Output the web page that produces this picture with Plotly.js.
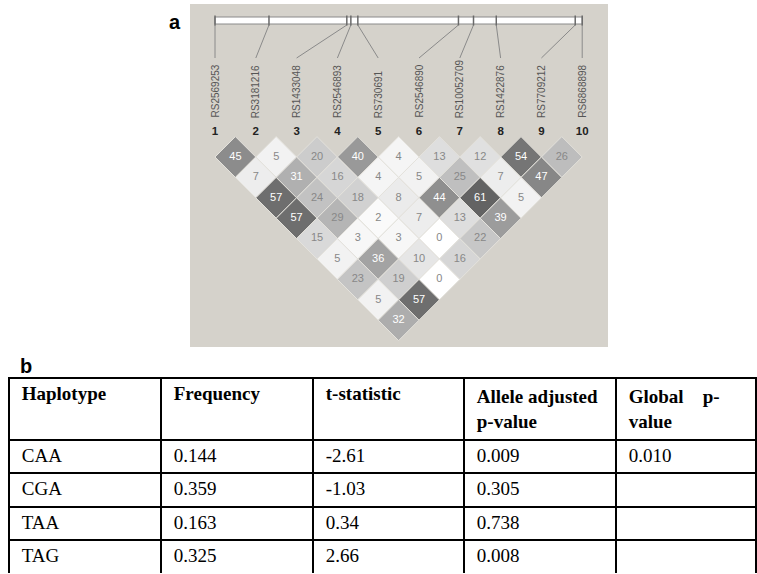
<!DOCTYPE html>
<html>
<head>
<meta charset="utf-8">
<script src="https://cdn.plot.ly/plotly-3.0.1.min.js"></script>
<style>html,body{margin:0;padding:0;background:#fff;}#chart{width:757px;height:574px;}</style>
</head>
<body>
<div id="chart"></div>
<script>
// ---- Data (panel a: LD plot) ----
const snpNames = ['RS2569253','RS3181216','RS1433048','RS2546893','RS730691','RS2546890','RS10052709','RS1422876','RS7709212','RS6868898'];
const snpNumbers = ['1','2','3','4','5','6','7','8','9','10'];
// relative physical position of each SNP along the top bar (0 = first, 1 = last)
const barPos = [0, 0.147, 0.359, 0.370, 0.389, 0.663, 0.704, 0.766, 0.981, 1.0];
// LD values (r^2 x 100), row d = pairs of SNPs d apart
const ldRow1 = [45, 5, 20, 40, 4, 13, 12, 54, 26];
const ldRow2 = [7, 31, 16, 4, 5, 25, 7, 47];
const ldRow3 = [57, 24, 18, 8, 44, 61, 5];
const ldRow4 = [57, 29, 2, 7, 13, 39];
const ldRow5 = [15, 3, 3, 0, 22];
const ldRow6 = [5, 36, 10, 16];
const ldRow7 = [23, 19, 0];
const ldRow8 = [5, 57];
const ldRow9 = [32];
const ldRows = [ldRow1, ldRow2, ldRow3, ldRow4, ldRow5, ldRow6, ldRow7, ldRow8, ldRow9];

// ---- Data (panel b: table) ----
const tableHeaders = ['Haplotype', 'Frequency', 't-statistic', 'Allele adjusted<br>p-value', 'Global\u00a0\u00a0\u00a0\u00a0p-<br>value'];
const haplotypes = ['CAA', 'CGA', 'TAA', 'TAG'];
const frequency = ['0.144', '0.359', '0.163', '0.325'];
const tStatistic = ['-2.61', '-1.03', '0.34', '2.66'];
const alleleP = ['0.009', '0.305', '0.738', '0.008'];
const globalP = ['0.010', '', '', ''];

// ---- Layout helpers ----
const W = 757, H = 574;
const pxPerUnit = 40.8;
const x0px = 215;          // pixel of SNP 1
const row1px = 157;        // pixel y of first LD row
const panel = {l: 190, r: 608, t: 4, b: 347};
const xr = [1 + (panel.l - x0px) / pxPerUnit, 1 + (panel.r - x0px) / pxPerUnit];
function yFromPx(p) { return -(1 + (p - row1px) / (pxPerUnit / 2)) * 0.5; }
const yr = [yFromPx(panel.b), yFromPx(panel.t)];

// diamonds
const dx = [], dy = [], dv = [], dtxt = [], dtcol = [];
ldRows.forEach((row, r) => {
  const d = r + 1;
  row.forEach((v, k) => {
    dx.push(k + 1 + d / 2);
    dy.push(-d * 0.5);
    dv.push(v);
    dtxt.push(String(v));
    dtcol.push(v >= 30 ? '#ffffff' : '#888888');
  });
});

const n = snpNames.length;
const barX = barPos.map(p => 1 + (n - 1) * p);

// connector lines from bar to labels
const cx = [], cy = [];
for (let i = 0; i < n; i++) {
  cx.push(barX[i], i + 1, null);
  cy.push(yFromPx(25), yFromPx(58), null);
}
// ticks on bar
const tx = [], ty = [];
for (let i = 0; i < n; i++) {
  tx.push(barX[i], barX[i], null);
  ty.push(yFromPx(15.5), yFromPx(25.5), null);
}

const pad = s => (s === '' ? '' : '\u00a0' + s);
const padHead = s => s.split('<br>').map(pad).join('<br>');

const traces = [
  {type: 'scatter', mode: 'lines', x: cx, y: cy, line: {color: '#8a8a8a', width: 1}, hoverinfo: 'skip', showlegend: false},
  {type: 'scatter', mode: 'lines', x: tx, y: ty, line: {color: '#6a6a6a', width: 1.5}, hoverinfo: 'skip', showlegend: false},
  {type: 'scatter', mode: 'markers+text', x: dx, y: dy, text: dtxt,
   textposition: 'middle center', textfont: {family: 'Liberation Sans, Arial', size: 11, color: dtcol},
   marker: {symbol: 'diamond', size: 2 * 20.4 / 1.3, color: dv, cmin: 0, cmax: 100,
            colorscale: [[0, '#ffffff'], [1, '#000000']], line: {color: '#e4e2dc', width: 1}},
   hoverinfo: 'skip', showlegend: false},
  {type: 'scatter', mode: 'text', x: snpNames.map((s, i) => i + 1), y: snpNames.map(() => yFromPx(132)),
   text: snpNumbers, textfont: {family: 'Liberation Sans, Arial', size: 11.5, color: '#222'},
   texttemplate: '<b>%{text}</b>', hoverinfo: 'skip', showlegend: false},
  {type: 'table', domain: {x: [9 / W, 756 / W], y: [0, 1 - 378 / H]},
   columnwidth: [152, 152, 151, 152, 140],
   header: {values: tableHeaders.map(padHead), align: 'left', height: 58,
            font: {family: 'Liberation Serif, Times New Roman', size: 19, color: '#000', weight: 'bold'},
            fill: {color: '#ffffff'}, line: {color: '#000', width: 2}},
   cells: {values: [haplotypes, frequency, tStatistic, alleleP, globalP].map(col => col.map(pad)), align: 'left', height: 33.5,
           font: {family: 'Liberation Serif, Times New Roman', size: 19, color: '#000'},
           fill: {color: '#ffffff'}, line: {color: '#000', width: 2}}}
];

const annotations = snpNames.map((s, i) => ({
  x: i + 1, y: yFromPx(120), xref: 'x', yref: 'y', text: s, textangle: -90,
  xanchor: 'center', yanchor: 'bottom', showarrow: false,
  font: {family: 'Liberation Sans, Arial', size: 10, color: '#555'}
}));
annotations.push({x: 175 / W, y: 1 - 22 / H, xref: 'paper', yref: 'paper', text: '<b>a</b>', showarrow: false,
  xanchor: 'center', yanchor: 'middle', font: {family: 'Liberation Sans, Arial', size: 20, color: '#000'}});
annotations.push({x: 26 / W, y: 1 - 366 / H, xref: 'paper', yref: 'paper', text: '<b>b</b>', showarrow: false,
  xanchor: 'center', yanchor: 'middle', font: {family: 'Liberation Sans, Arial', size: 20, color: '#000'}});

const layout = {
  width: W, height: H, margin: {l: 0, r: 0, t: 0, b: 0},
  paper_bgcolor: '#ffffff', plot_bgcolor: '#d5d2cb',
  xaxis: {domain: [panel.l / W, panel.r / W], range: xr, visible: false, fixedrange: true},
  yaxis: {domain: [1 - panel.b / H, 1 - panel.t / H], range: yr, visible: false, fixedrange: true},
  shapes: [
    {type: 'rect', xref: 'x', yref: 'y', x0: barX[0], x1: barX[n - 1], y0: yFromPx(24), y1: yFromPx(17),
     fillcolor: '#ffffff', line: {color: '#8a8a8a', width: 1}, layer: 'below'}
  ],
  annotations: annotations,
  showlegend: false
};

Plotly.newPlot('chart', traces, layout, {displayModeBar: false, staticPlot: true});
</script>
</body>
</html>
